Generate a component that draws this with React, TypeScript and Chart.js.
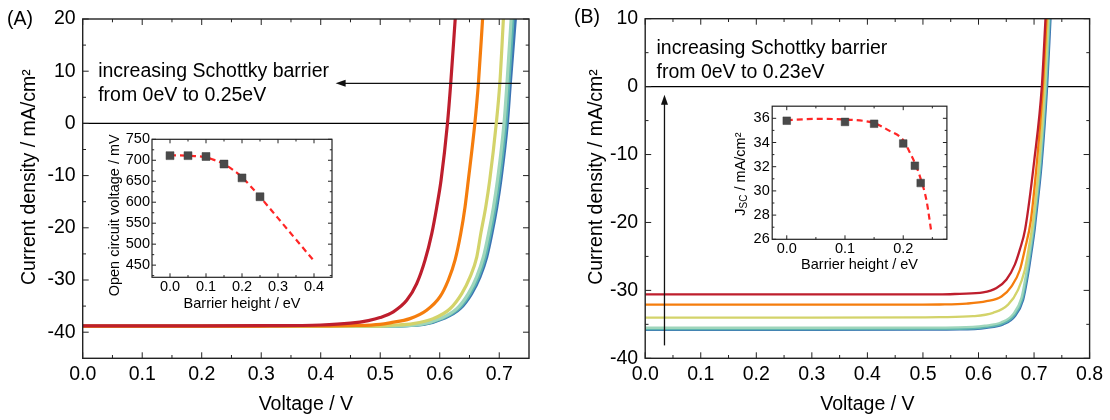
import React, { useEffect, useRef } from "react";
import { Chart, registerables } from "chart.js";
Chart.register(...registerables);

const FONT = "'Liberation Sans', Arial, Helvetica, sans-serif";

// ---------------- Panel A : J-V curves, barrier 0 ... 0.25 eV ----------------
const A_V_000 = [0, 0.2, 0.3, 0.4, 0.5, 0.5726, 0.6061, 0.6342, 0.6536, 0.6676, 0.6789, 0.6876, 0.6959, 0.7026, 0.7136, 0.7186, 0.727];
const A_J_000 = [-38.9, -38.9, -38.9, -38.88, -38.85, -38.5, -37.4, -35.5, -32.6, -29.4, -25.6, -21.1, -16.0, -10.9, 0, 7.7, 20];
const A_V_005 = [0, 0.2, 0.3, 0.4, 0.5, 0.57, 0.6035, 0.6316, 0.651, 0.665, 0.6763, 0.685, 0.6933, 0.7, 0.711, 0.716, 0.723];
const A_J_005 = [-38.9, -38.9, -38.9, -38.88, -38.85, -38.5, -37.4, -35.5, -32.6, -29.4, -25.6, -21.1, -16.0, -10.9, 0, 7.7, 20];
const A_V_010 = [0, 0.2, 0.3, 0.4, 0.5, 0.567, 0.6005, 0.6286, 0.648, 0.662, 0.6733, 0.682, 0.6903, 0.697, 0.708, 0.713, 0.72];
const A_J_010 = [-38.9, -38.9, -38.9, -38.88, -38.85, -38.5, -37.4, -35.5, -32.6, -29.4, -25.6, -21.1, -16.0, -10.9, 0, 7.7, 20];
const A_V_015 = [0, 0.2, 0.3, 0.4, 0.5, 0.5165, 0.5556, 0.589, 0.6173, 0.637, 0.651, 0.6622, 0.669, 0.6773, 0.684, 0.695, 0.701, 0.707];
const A_J_015 = [-38.9, -38.9, -38.88, -38.85, -38.82, -38.7, -38.35, -37.4, -35.5, -32.6, -29.4, -25.6, -21.1, -16.0, -10.9, 0, 7.7, 20];
const A_V_020 = [0, 0.2, 0.3, 0.4, 0.46, 0.4997, 0.5165, 0.55, 0.578, 0.6005, 0.6145, 0.6257, 0.6353, 0.6425, 0.648, 0.659, 0.665, 0.672];
const A_J_020 = [-38.85, -38.85, -38.82, -38.78, -38.72, -38.5, -38.2, -37.4, -35.8, -33.2, -30.0, -26.2, -21.1, -16.0, -10.9, 0, 7.7, 20];
const A_V_025 = [0, 0.2, 0.3, 0.4, 0.45, 0.48, 0.4997, 0.522, 0.5445, 0.5613, 0.5753, 0.5866, 0.595, 0.6022, 0.613, 0.6185, 0.626];
const A_J_025 = [-38.8, -38.8, -38.75, -38.62, -38.27, -37.77, -37.2, -36.1, -33.9, -30.7, -26.2, -21.1, -16.0, -10.9, 0, 7.7, 20];

const A_X_TICKS = [0, 0.1, 0.2, 0.3, 0.4, 0.5, 0.6, 0.7];
const A_Y_TICKS = [-40, -30, -20, -10, 0, 10, 20];
const A_NOTE = ["increasing Schottky barrier", "from 0eV to 0.25eV"];

// Inset A : Voc vs barrier height
const IA_BARRIER = [0, 0.05, 0.1, 0.15, 0.2, 0.25];
const IA_VOC = [711, 711, 709, 691, 658, 613];
const IA_FIT_X = [0, 0.05, 0.1, 0.125, 0.15, 0.175, 0.2, 0.225, 0.25, 0.3, 0.35, 0.4];
const IA_FIT_Y = [712, 711, 707, 700, 691, 677, 660, 637, 613, 562, 511, 460];
const IA_X_TICKS = [0, 0.1, 0.2, 0.3, 0.4];
const IA_Y_TICKS = [450, 500, 550, 600, 650, 700, 750];

// ---------------- Panel B : J-V curves, barrier 0 ... 0.23 eV ----------------
const B_V_000 = [0, 0.3, 0.5, 0.5664, 0.6144, 0.6443, 0.6654, 0.6803, 0.6893, 0.696, 0.701, 0.703, 0.7135, 0.7235, 0.7296];
const B_J_000 = [-35.8, -35.8, -35.78, -35.75, -35.5, -35.0, -33.8, -31.4, -27.6, -24.0, -21.1, -19.6, -11.5, 0, 10];
const B_V_010 = [0, 0.3, 0.5, 0.5649, 0.6129, 0.6428, 0.6639, 0.6788, 0.6878, 0.6945, 0.6995, 0.7015, 0.712, 0.722, 0.728];
const B_J_010 = [-35.7, -35.7, -35.68, -35.65, -35.4, -34.9, -33.7, -31.3, -27.5, -23.9, -21.0, -19.5, -11.4, 0, 10];
const B_V_015 = [0, 0.3, 0.5, 0.5634, 0.6114, 0.6413, 0.6624, 0.6773, 0.6863, 0.693, 0.698, 0.7, 0.7105, 0.7205, 0.7266];
const B_J_015 = [-35.5, -35.5, -35.48, -35.45, -35.2, -34.7, -33.5, -31.1, -27.3, -23.8, -20.9, -19.4, -11.3, 0, 10];
const B_V_020 = [0, 0.3, 0.5, 0.53, 0.5903, 0.6263, 0.6533, 0.6713, 0.6833, 0.69, 0.6985, 0.7088, 0.719, 0.725];
const B_J_020 = [-34.0, -34.0, -33.97, -33.95, -33.8, -33.3, -32.1, -29.9, -27.0, -24.0, -19.6, -11.5, 0, 10];
const B_V_022 = [0, 0.3, 0.5, 0.53, 0.5784, 0.6144, 0.6414, 0.6594, 0.6744, 0.6833, 0.694, 0.7055, 0.716, 0.7225];
const B_J_022 = [-32.1, -32.1, -32.1, -32.08, -31.95, -31.6, -30.9, -29.4, -27.0, -24.0, -19.8, -10.8, 0, 10];
const B_V_023 = [0, 0.3, 0.5, 0.53, 0.5664, 0.6083, 0.6324, 0.6504, 0.6654, 0.6744, 0.684, 0.7005, 0.714, 0.7206];
const B_J_023 = [-30.6, -30.6, -30.6, -30.6, -30.5, -30.3, -29.65, -28.4, -26.2, -24.0, -21.0, -10.8, 0, 10];

const B_X_TICKS = [0, 0.1, 0.2, 0.3, 0.4, 0.5, 0.6, 0.7, 0.8];
const B_Y_TICKS = [-40, -30, -20, -10, 0, 10];
const B_NOTE = ["increasing Schottky barrier", "from 0eV to 0.23eV"];

// Inset B : Jsc vs barrier height
const IB_BARRIER = [0, 0.1, 0.15, 0.2, 0.22, 0.23];
const IB_JSC = [35.8, 35.7, 35.55, 33.92, 32.08, 30.65];
const IB_FIT_X = [0, 0.05, 0.1, 0.15, 0.175, 0.2, 0.21, 0.22, 0.23, 0.24, 0.248];
const IB_FIT_Y = [35.85, 35.95, 35.9, 35.6, 35.0, 34.2, 33.3, 32.3, 31.0, 29.2, 26.7];
const IB_X_TICKS = [0, 0.1, 0.2];
const IB_Y_TICKS = [26, 28, 30, 32, 34, 36];

// colours (0 eV -> highest barrier)
const COLORS = ["#3b74b3", "#5db5b0", "#9fd6bb", "#d3d36a", "#f57d0d", "#be1e2d"];

// ---------------- helpers ----------------
const pts = (xs: number[], ys: number[]) => xs.map((x, i) => ({ x, y: ys[i] }));

const curve = (xs: number[], ys: number[], color: string, w: number) => ({
  data: pts(xs, ys),
  borderColor: color,
  backgroundColor: color,
  borderWidth: w,
  pointRadius: 0,
  cubicInterpolationMode: "monotone",
  fill: false,
});

const minorOf = (major: number[], min: number, max: number) => {
  const step = major[1] - major[0];
  const out: number[] = [];
  [major[0] - step, ...major].forEach((v) => {
    const m = v + step / 2;
    if (m > min + 1e-9 && m < max - 1e-9) out.push(m);
  });
  return out;
};

function drawArrow(ctx: CanvasRenderingContext2D, x1: number, y1: number, x2: number, y2: number) {
  const ang = Math.atan2(y2 - y1, x2 - x1);
  const hl = 10, hw = 3.5;
  ctx.save();
  ctx.strokeStyle = "#111";
  ctx.fillStyle = "#111";
  ctx.lineWidth = 1.3;
  ctx.beginPath();
  ctx.moveTo(x1, y1);
  ctx.lineTo(x2 - Math.cos(ang) * hl * 0.8, y2 - Math.sin(ang) * hl * 0.8);
  ctx.stroke();
  ctx.beginPath();
  ctx.moveTo(x2, y2);
  ctx.lineTo(x2 - Math.cos(ang) * hl - Math.sin(ang) * hw, y2 - Math.sin(ang) * hl + Math.cos(ang) * hw);
  ctx.lineTo(x2 - Math.cos(ang) * hl + Math.sin(ang) * hw, y2 - Math.sin(ang) * hl - Math.cos(ang) * hw);
  ctx.closePath();
  ctx.fill();
  ctx.restore();
}

function drawRotated(ctx: CanvasRenderingContext2D, parts: { t: string; size: number; dy: number }[], cx: number, cy: number) {
  ctx.save();
  ctx.translate(cx, cy);
  ctx.rotate(-Math.PI / 2);
  ctx.fillStyle = "#000";
  ctx.textBaseline = "middle";
  ctx.textAlign = "left";
  let total = 0;
  parts.forEach((p) => {
    ctx.font = `${p.size}px ${FONT}`;
    total += ctx.measureText(p.t).width;
  });
  let x = -total / 2;
  parts.forEach((p) => {
    ctx.font = `${p.size}px ${FONT}`;
    ctx.fillText(p.t, x, p.dy);
    x += ctx.measureText(p.t).width;
  });
  ctx.restore();
}

type Deco = {
  xMajor: number[];
  yMajor: number[];
  xMinor: number[];
  yMinor: number[];
  major: number;
  minor: number;
  frame: number;
  zero?: boolean;
  extra?: (chart: any) => void;
};

function makeDeco(cfg: Deco) {
  return {
    id: "deco",
    beforeDatasetsDraw(chart: any) {
      if (!cfg.zero) return;
      const { ctx, chartArea: a, scales } = chart;
      const y = scales.y.getPixelForValue(0);
      ctx.save();
      ctx.strokeStyle = "#000";
      ctx.lineWidth = 1.2;
      ctx.beginPath();
      ctx.moveTo(a.left, y);
      ctx.lineTo(a.right, y);
      ctx.stroke();
      ctx.restore();
    },
    afterDatasetsDraw(chart: any) {
      const { ctx, chartArea: a, scales } = chart;
      const xs = scales.x, ys = scales.y;
      ctx.save();
      ctx.strokeStyle = "#222";
      ctx.lineWidth = cfg.frame;
      ctx.strokeRect(a.left, a.top, a.right - a.left, a.bottom - a.top);
      ctx.lineWidth = 1;
      const tick = (vals: number[], len: number) => {
        vals.forEach((v) => {
          const px = xs.getPixelForValue(v);
          ctx.beginPath();
          ctx.moveTo(px, a.bottom);
          ctx.lineTo(px, a.bottom - len);
          ctx.moveTo(px, a.top);
          ctx.lineTo(px, a.top + len);
          ctx.stroke();
        });
      };
      const tickY = (vals: number[], len: number) => {
        vals.forEach((v) => {
          const py = ys.getPixelForValue(v);
          ctx.beginPath();
          ctx.moveTo(a.left, py);
          ctx.lineTo(a.left + len, py);
          ctx.moveTo(a.right, py);
          ctx.lineTo(a.right - len, py);
          ctx.stroke();
        });
      };
      tick(cfg.xMajor, cfg.major);
      tick(cfg.xMinor, cfg.minor);
      tickY(cfg.yMajor, cfg.major);
      tickY(cfg.yMinor, cfg.minor);
      ctx.restore();
      if (cfg.extra) cfg.extra(chart);
    },
  };
}

type AxisCfg = {
  min: number;
  max: number;
  ticks: number[];
  dec: number;
  size: number;
  pad: number;
  fixed: number;
  title?: string;
  titlePad?: number;
};

function xAxis(c: AxisCfg) {
  return {
    type: "linear",
    min: c.min,
    max: c.max,
    afterBuildTicks: (s: any) => {
      s.ticks = c.ticks.map((v) => ({ value: v }));
    },
    afterFit: (s: any) => {
      s.height = c.fixed;
    },
    grid: { display: false, drawTicks: false },
    border: { display: false },
    ticks: {
      color: "#000",
      font: { family: FONT, size: c.size },
      padding: c.pad,
      maxRotation: 0,
      autoSkip: false,
      callback: (v: any) => Number(v).toFixed(c.dec),
    },
    title: {
      display: !!c.title,
      text: c.title || "",
      color: "#000",
      font: { family: FONT, size: c.size },
      padding: { top: 0, bottom: c.titlePad || 0 },
    },
  };
}

function yAxis(c: AxisCfg) {
  return {
    type: "linear",
    min: c.min,
    max: c.max,
    afterBuildTicks: (s: any) => {
      s.ticks = c.ticks.map((v) => ({ value: v }));
    },
    afterFit: (s: any) => {
      s.width = c.fixed;
    },
    grid: { display: false, drawTicks: false },
    border: { display: false },
    ticks: {
      color: "#000",
      font: { family: FONT, size: c.size },
      padding: c.pad,
      autoSkip: false,
      callback: (v: any) => Number(v).toFixed(c.dec),
    },
    title: { display: false },
  };
}

const baseOptions = (scales: any, padding: any) => ({
  responsive: false,
  maintainAspectRatio: false,
  animation: false,
  devicePixelRatio: 1,
  layout: { padding },
  plugins: { legend: { display: false }, tooltip: { enabled: false }, title: { display: false } },
  scales,
});

const MAIN = 19.5;
const SMALL = 14.5;

function noteDrawer(lines: string[], v: number, j1: number, j2: number) {
  return (chart: any) => {
    const { ctx, scales } = chart;
    ctx.save();
    ctx.fillStyle = "#000";
    ctx.font = `${MAIN}px ${FONT}`;
    ctx.textAlign = "left";
    ctx.textBaseline = "middle";
    const x = scales.x.getPixelForValue(v);
    ctx.fillText(lines[0], x, scales.y.getPixelForValue(j1));
    ctx.fillText(lines[1], x, scales.y.getPixelForValue(j2));
    ctx.restore();
  };
}

function panelLabel(ctx: CanvasRenderingContext2D, t: string, x: number, y: number) {
  ctx.save();
  ctx.fillStyle = "#000";
  ctx.font = `${MAIN}px ${FONT}`;
  ctx.textAlign = "left";
  ctx.textBaseline = "middle";
  ctx.fillText(t, x, y);
  ctx.restore();
}

export default function App() {
  const refA = useRef<HTMLCanvasElement>(null);
  const refB = useRef<HTMLCanvasElement>(null);
  const refIA = useRef<HTMLCanvasElement>(null);
  const refIB = useRef<HTMLCanvasElement>(null);

  useEffect(() => {
    const charts: Chart[] = [];

    // ---------- Panel A ----------
    const aSeries = [
      [A_V_025, A_J_025, 5],
      [A_V_020, A_J_020, 4],
      [A_V_015, A_J_015, 3],
      [A_V_010, A_J_010, 2],
      [A_V_005, A_J_005, 1],
      [A_V_000, A_J_000, 0],
    ] as [number[], number[], number][];
    const noteA = noteDrawer(A_NOTE, 0.026, 10.0, 5.4);
    charts.push(
      new Chart(refA.current!, {
        type: "line",
        data: { datasets: aSeries.map(([v, j, c]) => curve(v, j, COLORS[c], 3.2)) as any },
        options: baseOptions(
          {
            x: xAxis({ min: 0, max: 0.75, ticks: A_X_TICKS, dec: 1, size: MAIN, pad: 4.5, fixed: 61.7, title: "Voltage / V", titlePad: 3.3 }),
            y: yAxis({ min: -45, max: 20, ticks: A_Y_TICKS, dec: 0, size: MAIN, pad: 7, fixed: 82.7 }),
          },
          { left: 0, right: 26, top: 19, bottom: 0 }
        ) as any,
        plugins: [
          makeDeco({
            xMajor: A_X_TICKS,
            yMajor: A_Y_TICKS,
            xMinor: minorOf(A_X_TICKS, 0, 0.75),
            yMinor: minorOf(A_Y_TICKS, -45, 20),
            major: 6,
            minor: 3.3,
            frame: 1.4,
            zero: true,
            extra: (chart: any) => {
              const { ctx, scales, chartArea: a } = chart;
              noteA(chart);
              drawArrow(ctx, scales.x.getPixelForValue(0.736), scales.y.getPixelForValue(7.67), scales.x.getPixelForValue(0.425), scales.y.getPixelForValue(7.67));
              drawRotated(ctx, [{ t: "Current density / mA/cm²", size: MAIN, dy: 0 }], a.left - 52.7, (a.top + a.bottom) / 2 - 11.5);
              panelLabel(ctx, "(A)", 7, 20);
            },
          }),
        ],
      })
    );

    // ---------- Inset A ----------
    charts.push(
      new Chart(refIA.current!, {
        type: "line",
        data: {
          datasets: [
            {
              data: pts(IA_BARRIER, IA_VOC),
              showLine: false,
              pointStyle: "rect",
              pointRadius: 5.6,
              pointBackgroundColor: "#4a4a4a",
              pointBorderColor: "#3a3a3a",
              pointBorderWidth: 0.5,
            },
            {
              data: pts(IA_FIT_X, IA_FIT_Y),
              borderColor: "#ff2626",
              borderWidth: 2.2,
              borderDash: [6, 4],
              pointRadius: 0,
              cubicInterpolationMode: "monotone",
              fill: false,
            },
          ] as any,
        },
        options: baseOptions(
          {
            x: xAxis({ min: -0.05, max: 0.45, ticks: IA_X_TICKS, dec: 1, size: SMALL, pad: 1.3, fixed: 37.7, title: "Barrier height / eV", titlePad: 2.3 }),
            y: yAxis({ min: 421, max: 750, ticks: IA_Y_TICKS, dec: 0, size: SMALL, pad: 2, fixed: 52 }),
          },
          { left: 0, right: 8, top: 14.3, bottom: 0 }
        ) as any,
        plugins: [
          makeDeco({
            xMajor: IA_X_TICKS,
            yMajor: IA_Y_TICKS,
            xMinor: minorOf(IA_X_TICKS, -0.05, 0.45),
            yMinor: minorOf(IA_Y_TICKS, 421, 750),
            major: 4,
            minor: 2.2,
            frame: 1.2,
            extra: (chart: any) => {
              const { ctx, chartArea: a } = chart;
              drawRotated(ctx, [{ t: "Open circuit voltage / mV", size: SMALL, dy: 0 }], a.left - 37, (a.top + a.bottom) / 2 + 7);
            },
          }),
        ],
      })
    );

    // ---------- Panel B ----------
    const bSeries = [
      [B_V_023, B_J_023, 5],
      [B_V_022, B_J_022, 4],
      [B_V_020, B_J_020, 3],
      [B_V_015, B_J_015, 2],
      [B_V_010, B_J_010, 1],
      [B_V_000, B_J_000, 0],
    ] as [number[], number[], number][];
    const noteB = noteDrawer(B_NOTE, 0.0203, 5.65, 2.06);
    charts.push(
      new Chart(refB.current!, {
        type: "line",
        data: { datasets: bSeries.map(([v, j, c]) => curve(v, j, COLORS[c], 2.3)) as any },
        options: baseOptions(
          {
            x: xAxis({ min: 0, max: 0.8, ticks: B_X_TICKS, dec: 1, size: MAIN, pad: 4.5, fixed: 61.7, title: "Voltage / V", titlePad: 3.3 }),
            y: yAxis({ min: -40, max: 10, ticks: B_Y_TICKS, dec: 0, size: MAIN, pad: 7, fixed: 90.2 }),
          },
          { left: 0, right: 20.4, top: 18.3, bottom: 0 }
        ) as any,
        plugins: [
          makeDeco({
            xMajor: B_X_TICKS,
            yMajor: B_Y_TICKS,
            xMinor: minorOf(B_X_TICKS, 0, 0.8),
            yMinor: minorOf(B_Y_TICKS, -40, 10),
            major: 6,
            minor: 3.3,
            frame: 1.4,
            zero: true,
            extra: (chart: any) => {
              const { ctx, scales, chartArea: a } = chart;
              noteB(chart);
              drawArrow(ctx, scales.x.getPixelForValue(0.0347), scales.y.getPixelForValue(-38.1), scales.x.getPixelForValue(0.0347), scales.y.getPixelForValue(-1.2));
              drawRotated(ctx, [{ t: "Current density / mA/cm²", size: MAIN, dy: 0 }], a.left - 48.2, (a.top + a.bottom) / 2 - 11.5);
              panelLabel(ctx, "(B)", 19, 18);
            },
          }),
        ],
      })
    );

    // ---------- Inset B ----------
    charts.push(
      new Chart(refIB.current!, {
        type: "line",
        data: {
          datasets: [
            {
              data: pts(IB_BARRIER, IB_JSC),
              showLine: false,
              pointStyle: "rect",
              pointRadius: 5.4,
              pointBackgroundColor: "#4a4a4a",
              pointBorderColor: "#3a3a3a",
              pointBorderWidth: 0.5,
            },
            {
              data: pts(IB_FIT_X, IB_FIT_Y),
              borderColor: "#ff2626",
              borderWidth: 2.2,
              borderDash: [6, 4],
              pointRadius: 0,
              cubicInterpolationMode: "monotone",
              fill: false,
            },
          ] as any,
        },
        options: baseOptions(
          {
            x: xAxis({ min: -0.025, max: 0.275, ticks: IB_X_TICKS, dec: 1, size: SMALL, pad: 0.5, fixed: 40.7, title: "Barrier height / eV", titlePad: 6.3 }),
            y: yAxis({ min: 26, max: 37, ticks: IB_Y_TICKS, dec: 0, size: SMALL, pad: 2.5, fixed: 62.2 }),
          },
          { left: 0, right: 13.1, top: 11, bottom: 0 }
        ) as any,
        plugins: [
          makeDeco({
            xMajor: IB_X_TICKS,
            yMajor: IB_Y_TICKS,
            xMinor: minorOf(IB_X_TICKS, -0.025, 0.275),
            yMinor: minorOf(IB_Y_TICKS, 26, 37),
            major: 4,
            minor: 2.2,
            frame: 1.2,
            extra: (chart: any) => {
              const { ctx, chartArea: a } = chart;
              drawRotated(
                ctx,
                [
                  { t: "J", size: SMALL, dy: 0 },
                  { t: "SC", size: 10, dy: 4 },
                  { t: " / mA/cm²", size: SMALL, dy: 0 },
                ],
                a.left - 31.6,
                (a.top + a.bottom) / 2 + 1.3
              );
            },
          }),
        ],
      })
    );

    return () => charts.forEach((c) => c.destroy());
  }, []);

  return (
    <div style={{ position: "absolute", left: 0, top: 0, width: 1110, height: 420, background: "#fff", overflow: "hidden" }}>
      <canvas ref={refA} width={555} height={420} style={{ position: "absolute", left: 0, top: 0 }} />
      <canvas ref={refB} width={555} height={420} style={{ position: "absolute", left: 555, top: 0 }} />
      <canvas ref={refIA} width={240} height={190} style={{ position: "absolute", left: 100, top: 125 }} />
      <canvas ref={refIB} width={250} height={185} style={{ position: "absolute", left: 710, top: 95 }} />
    </div>
  );
}
